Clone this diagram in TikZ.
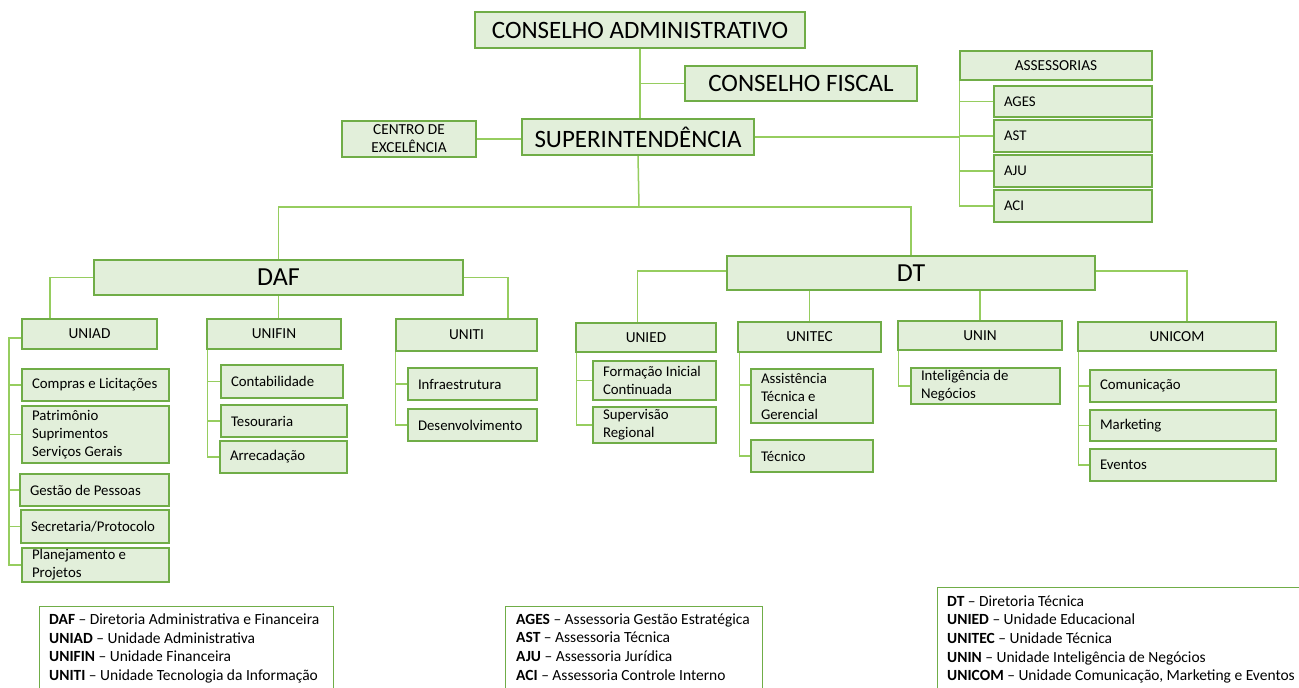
\documentclass[tikz,border=0pt]{standalone}
\usepackage{fontspec}
\setmainfont{Carlito}
\usetikzlibrary{calc,backgrounds}
\definecolor{boxline}{RGB}{112,173,71}
\definecolor{boxfill}{RGB}{226,239,218}
\definecolor{connline}{RGB}{150,205,95}
% centred box: [style]{name}{x1}{y1}{x2}{y2}{text}
\newcommand\orgbox[7][]{%
  \pgfmathsetmacro\obw{#5-#3}%
  \pgfmathsetmacro\obh{#6-#4}%
  \pgfmathsetmacro\obcx{(#3+#5)/2}%
  \pgfmathsetmacro\obcy{(#4+#6)/2}%
  \node[box,minimum width=\obw pt,minimum height=\obh pt,#1] (#2) at (\obcx,\obcy) {#7};}
% left-aligned box
\newcommand\orgboxl[7][]{%
  \pgfmathsetmacro\obw{#5-#3}%
  \pgfmathsetmacro\obh{#6-#4}%
  \pgfmathsetmacro\obcx{(#3+#5)/2}%
  \pgfmathsetmacro\obcy{(#4+#6)/2}%
  \node[box,minimum width=\obw pt,minimum height=\obh pt] (#2) at (\obcx,\obcy) {};
  \node[ltxt,#1] (#2-t) at ([xshift=10.5pt]#2.west) {#7};}
\tikzset{
  box/.style={draw=boxline,fill=boxfill,line width=1.4pt,inner sep=0pt,align=center,
    font=\fontsize{15.3}{18}\selectfont},
  ltxt/.style={anchor=west,align=left,inner sep=0pt,font=\fontsize{14.8}{18}\selectfont},
  big/.style={font=\fontsize{25}{29}\selectfont},
  dir/.style={font=\fontsize{26}{30}\selectfont},
  conn/.style={draw=connline,line width=1.5pt},
  legbox/.style={draw=boxline,line width=1.2pt,anchor=north west,inner sep=0pt},
  legtxt/.style={anchor=north west,align=left,inner sep=0pt,font=\fontsize{15.5}{18.6}\selectfont}
}
\begin{document}
\begin{tikzpicture}[x=1pt,y=-1pt]
\useasboundingbox (0,0) rectangle (1299,688);
% top
\orgbox[big]{ca}{475}{12}{805}{48}{CONSELHO ADMINISTRATIVO}
\orgbox[big]{cf}{685}{66}{917}{101}{CONSELHO FISCAL}
\orgbox[big]{sup}{522}{119}{754}{155}{SUPERINTENDÊNCIA}
\orgbox{centro}{342}{121}{476}{157}{CENTRO DE\\EXCELÊNCIA}
\orgbox{ass}{960}{51}{1152}{80}{ASSESSORIAS}
\orgboxl{ages}{994}{86}{1152}{117}{AGES}
\orgboxl{ast}{994}{120}{1152}{152}{AST}
\orgboxl{aju}{994}{155}{1152}{187}{AJU}
\orgboxl{aci}{994}{190}{1152}{222}{ACI}
% directorates
\orgbox[dir]{daf}{94}{260}{463}{295}{DAF}
\orgbox[dir]{dt}{727}{256}{1095}{290}{DT}
% DAF units
\orgbox{uniad}{22}{319}{157}{349}{UNIAD}
\orgbox{unifin}{207}{319}{341}{349}{UNIFIN}
\orgbox{uniti}{396}{319}{537}{351}{UNITI}
\orgboxl{comp}{22}{369}{169}{401}{Compras e Licitações}
\orgboxl{patr}{22}{406}{169}{463}{Patrimônio\\Suprimentos\\Serviços Gerais}
\orgboxl{gest}{20}{474}{169}{506}{Gestão de Pessoas}
\orgboxl{secr}{21}{510}{169}{543}{Secretaria/Protocolo}
\orgboxl{plan}{22}{548}{169}{582}{Planejamento e\\Projetos}
\orgboxl{cont}{221}{365}{343}{398}{Contabilidade}
\orgboxl{teso}{221}{405}{347}{437}{Tesouraria}
\orgboxl{arre}{220}{441}{347}{473}{Arrecadação}
\orgboxl{infra}{408}{368}{537}{400}{Infraestrutura}
\orgboxl{desv}{408}{409}{537}{441}{Desenvolvimento}
% DT units
\orgbox{unied}{576}{323}{716}{352}{UNIED}
\orgbox{unitec}{738}{322}{881}{352}{UNITEC}
\orgbox{unin}{898}{321}{1062}{350}{UNIN}
\orgbox{unicom}{1078}{322}{1276}{351}{UNICOM}
\orgboxl{form}{593}{361}{716}{400}{Formação Inicial\\Continuada}
\orgboxl{superv}{593}{407}{716}{443}{Supervisão\\Regional}
\orgboxl{assist}{751}{369}{873}{423}{Assistência\\Técnica e\\Gerencial}
\orgboxl{tecn}{751}{440}{873}{472}{Técnico}
\orgboxl{intel}{911}{368}{1060}{404}{Inteligência de\\Negócios}
\orgboxl{comu}{1090}{370}{1276}{402}{Comunicação}
\orgboxl{mark}{1090}{410}{1276}{441}{Marketing}
\orgboxl{even}{1090}{449}{1276}{481}{Eventos}
% legends
\node[legbox,minimum width=294pt,minimum height=110pt] (legdaf) at (39,606) {};
\node[legtxt] (legdaf-t) at (49,613.5) {%
\textbf{DAF} – Diretoria Administrativa e Financeira\\
\textbf{UNIAD} – Unidade Administrativa\\
\textbf{UNIFIN} – Unidade Financeira\\
\textbf{UNITI} – Unidade Tecnologia da Informação};
\node[legbox,minimum width=257pt,minimum height=110pt] (legass) at (505,606) {};
\node[legtxt] (legass-t) at (516,613.5) {%
\textbf{AGES} – Assessoria Gestão Estratégica\\
\textbf{AST} – Assessoria Técnica\\
\textbf{AJU} – Assessoria Jurídica\\
\textbf{ACI} – Assessoria Controle Interno};
\node[legbox,minimum width=380pt,minimum height=130pt] (legdt) at (937,587) {};
\node[legtxt] (legdt-t) at (947,595.5) {%
\textbf{DT} – Diretoria Técnica\\
\textbf{UNIED} – Unidade Educacional\\
\textbf{UNITEC} – Unidade Técnica\\
\textbf{UNIN} – Unidade Inteligência de Negócios\\
\textbf{UNICOM} – Unidade Comunicação, Marketing e Eventos};
% connectors
\coordinate (bus) at (639,207);
\coordinate (brA) at (9,0);
\coordinate (assistin) at ([yshift=11pt]assist.west);
\begin{scope}[on background layer]
\fill[white] (0,0) rectangle (1299,688);
\draw[conn] (ca.south) -- (ca.south |- sup.north);
\draw[conn] (ca.south |- cf.west) -- (cf.west);
\draw[conn] (centro.east) -- (sup.west |- centro.east);
\draw[conn] (sup.east) -- (sup.east -| ass.south west);
\draw[conn] (ass.south west) |- (aci.west);
\foreach \n in {ages,ast,aju} \draw[conn] (ass.south west |- \n.west) -- (\n.west);
\draw[conn] (sup.south) -- (bus);
\draw[conn] (daf.north) |- (bus) -| (dt.north);
% DAF
\draw[conn] (daf.west) -| ($(uniad.north west)!0.21!(uniad.north east)$);
\draw[conn] (daf.south) -- (daf.south |- unifin.north);
\draw[conn] (daf.east) -| ($(uniti.north west)!0.79!(uniti.north east)$);
\draw[conn] ([yshift=-4pt]uniad.west) -| (brA |- plan.west) -- (plan.west);
\foreach \n in {comp,patr,gest,secr} \draw[conn] (brA |- \n.west) -- (\n.west);
\draw[conn] ([xshift=1pt]unifin.south west) |- (arre.west);
\foreach \n in {cont,teso} \draw[conn] ([xshift=1pt]unifin.south west |- \n.west) -- (\n.west);
\draw[conn] (uniti.south west) |- (desv.west);
\draw[conn] (uniti.south west |- infra.west) -- (infra.west);
% DT
\draw[conn] ([yshift=2pt]dt.west) -| ($(unied.north west)!0.44!(unied.north east)$);
\draw[conn] (unitec.north |- dt.south) -- (unitec.north);
\draw[conn] (unin.north |- dt.south) -- (unin.north);
\draw[conn] ([yshift=2pt]dt.east) -| ($(unicom.north west)!0.55!(unicom.north east)$);
\draw[conn] ([xshift=1pt]unied.south west) |- (superv.west);
\draw[conn] ([xshift=1pt]unied.south west |- form.west) -- (form.west);
\draw[conn] ([xshift=2pt]unitec.south west) |- (tecn.west);
\draw[conn] ([xshift=2pt]unitec.south west |- assistin) -- (assistin);
\draw[conn] ([xshift=1pt]unin.south west) |- (intel.west);
\draw[conn] ([xshift=1pt]unicom.south west) |- (even.west);
\foreach \n in {comu,mark} \draw[conn] ([xshift=1pt]unicom.south west |- \n.west) -- (\n.west);
\end{scope}
\end{tikzpicture}
\end{document}
